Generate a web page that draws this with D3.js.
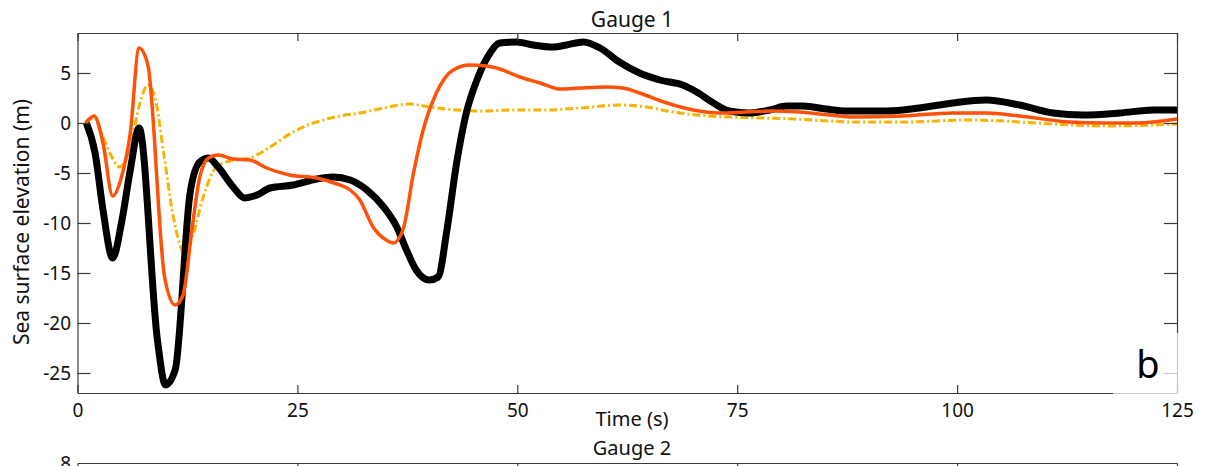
<!DOCTYPE html>
<html>
<head>
<meta charset="utf-8">
<script src="https://cdn.jsdelivr.net/npm/d3@7"></script>
<style>
  html, body { margin: 0; padding: 0; background: #fff; }
  svg { display: block; font-family: "Noto Sans", "Open Sans", sans-serif; }
</style>
</head>
<body>
<svg id="chart" width="1205" height="466"></svg>
<script>
// ---- data ----
const xTicks = [0, 25, 50, 75, 100, 125];
const yTicks = [-25, -20, -15, -10, -5, 0, 5];
const lowerTicks = [25, 50, 75, 100];

const observedT = [1, 2, 2.9, 4, 5, 6, 7, 9.1, 10, 11.1, 12.8, 13.9, 14.9, 15.8, 17.7, 19, 20.4, 21.9, 24.5, 27.2, 29.1, 31, 32.9, 34.8, 36.3, 37.4, 38.5, 40, 41, 42, 43.1, 44.2, 45.5, 46.9, 48, 49.9, 51.8, 54.1, 55.6, 57.5, 59.4, 61.6, 63.9, 66.2, 68.8, 70.4, 72.3, 74.1, 76.4, 78.7, 80.6, 82.5, 85.1, 87.4, 92, 95.7, 99.5, 103.3, 107.1, 110.9, 114.3, 118.5, 122.3, 125];
const observedV = [0, -3, -8.7, -13.5, -10, -4.7, -0.5, -21.8, -26.2, -24.7, -7, -3.9, -3.5, -4.2, -6.4, -7.5, -7.2, -6.5, -6.2, -5.6, -5.4, -5.7, -6.7, -8.4, -10.4, -12.7, -14.7, -15.7, -15.4, -10.7, -4, 1, 4.5, 7, 8, 8.1, 7.8, 7.6, 7.8, 8.1, 7.5, 6.1, 5, 4.3, 3.8, 3.1, 2, 1.2, 1, 1.3, 1.7, 1.7, 1.4, 1.2, 1.2, 1.5, 2, 2.3, 1.8, 1, 0.8, 1, 1.3, 1.3];

const modelAT = [0.9, 1.9, 2.9, 4, 5, 6, 7, 8, 9.9, 11.1, 12, 13, 13.9, 14.9, 16, 17.7, 19.6, 21.5, 24.1, 27.2, 29.5, 31, 32.1, 33.6, 35.1, 35.9, 37, 38.2, 39.3, 40.8, 42.7, 44.6, 46.5, 48, 50.3, 52.6, 54.8, 57.1, 60.1, 62, 63.9, 67, 70, 73, 76, 79, 82.1, 85.5, 88.2, 93.8, 99.5, 103.3, 107.1, 112.8, 116.6, 120.4, 125];
const modelAV = [0, 0.7, -2, -7.3, -5.4, -1, 7.5, 5.8, -15.4, -18.2, -17.2, -10.7, -5.4, -3.5, -3.2, -3.6, -3.7, -4.5, -5.2, -5.5, -6.1, -6.7, -7.7, -10.4, -11.7, -12, -10.7, -5, -0.7, 3, 5.3, 5.8, 5.7, 5.4, 4.6, 4, 3.4, 3.5, 3.6, 3.5, 3, 2, 1.3, 1, 1.1, 1.2, 1.1, 0.8, 0.6, 0.7, 1, 1, 0.7, 0.1, 0, 0, 0.4];

const modelBT = [0.9, 1.9, 2.9, 3.9, 4.8, 6, 7.1, 8, 8.8, 9.8, 10.9, 12.2, 13.2, 14.3, 15.8, 17.3, 19.6, 21.9, 24.5, 27.2, 29.8, 32.1, 34.8, 37.8, 40, 43.1, 46.1, 49.5, 53.3, 57.1, 61.6, 64.7, 67.7, 70.4, 74.1, 77.9, 81.7, 85.5, 88.2, 93.8, 101.4, 105.2, 110.9, 116.6, 122.3, 125];
const modelBV = [0, 0.5, -1.4, -3.4, -4.4, -2.4, 2, 3.8, 2.6, -3, -9.4, -13, -11, -7.4, -4.4, -3.8, -3.5, -2.4, -0.9, 0.1, 0.7, 1, 1.5, 1.9, 1.6, 1.3, 1.2, 1.3, 1.3, 1.5, 1.8, 1.6, 1.1, 0.8, 0.6, 0.5, 0.4, 0.2, 0.1, 0.1, 0.3, 0.2, -0.1, -0.3, -0.2, -0.1];

(function () {
// ---- layout ----
const svg = d3.select("#chart");
const L = 77.5, R = 1177, T = 33, B = 393;
const x = d3.scaleLinear().domain([0, 125]).range([L, R]);
const y = d3.scaleLinear().domain([-27, 9]).range([B, T]);
const axisColor = "#3a3a3a";
const fmt = d => String(d);

svg.append("defs").append("clipPath").attr("id", "clip")
  .append("rect").attr("x", L).attr("y", T).attr("width", R - L).attr("height", B - T);

// title
svg.append("text").attr("x", 632).attr("y", 27).attr("text-anchor", "middle")
  .attr("font-size", 21).attr("fill", "#111").text("Gauge 1");

// lines
const zip = (ts, vs) => ts.map((t, i) => [t, vs[i]]);
const line = d3.line().x(d => x(d[0])).y(d => y(d[1])).curve(d3.curveMonotoneX);
const g = svg.append("g").attr("clip-path", "url(#clip)");

g.append("path").datum(zip(modelBT, modelBV)).attr("d", line)
  .attr("fill", "none").attr("stroke", "#f5b400").attr("stroke-width", 3)
  .attr("stroke-dasharray", "8,3,2,3");
g.append("path").datum(zip(observedT, observedV)).attr("d", line)
  .attr("fill", "none").attr("stroke", "#000").attr("stroke-width", 7)
  .attr("stroke-linejoin", "round");
g.append("path").datum(zip(modelAT, modelAV)).attr("d", line)
  .attr("fill", "none").attr("stroke", "#ff5208").attr("stroke-width", 3.5)
  .attr("stroke-linejoin", "round");

// axes
const ax = svg.append("g");
ax.append("g").attr("transform", `translate(0,${B})`)
  .call(d3.axisBottom(x).tickValues(xTicks).tickFormat(fmt).tickSizeInner(-8).tickSizeOuter(0).tickPadding(10.5));
ax.append("g").attr("transform", `translate(0,${T})`)
  .call(d3.axisTop(x).tickValues(xTicks).tickSizeInner(-8).tickSizeOuter(0).tickFormat(""));
ax.append("g").attr("transform", `translate(${L},0)`)
  .call(d3.axisLeft(y).tickValues(yTicks).tickFormat(fmt).tickSizeInner(-13).tickSizeOuter(0).tickPadding(6.5));
ax.append("g").attr("transform", `translate(${R},0)`)
  .call(d3.axisRight(y).tickValues(yTicks).tickSizeInner(-13).tickSizeOuter(0).tickFormat(""));
ax.selectAll(".domain").attr("stroke", axisColor).attr("stroke-width", 1.2);
ax.selectAll(".tick line").attr("stroke", axisColor).attr("stroke-width", 1.2);
ax.selectAll(".tick text").attr("font-size", 19).attr("fill", "#111")
  .attr("font-family", "'Noto Sans', sans-serif");

// axis labels
svg.append("text").attr("x", 632).attr("y", 426).attr("text-anchor", "middle")
  .attr("font-size", 20).attr("fill", "#111").text("Time (s)");
svg.append("text").attr("transform", "translate(29,222) rotate(-90)").attr("text-anchor", "middle")
  .attr("font-size", 21).attr("fill", "#111").text("Sea surface elevation (m)");

// panel letter with translucent white box
svg.append("rect").attr("x", 1113).attr("y", 333).attr("width", 72).attr("height", 64)
  .attr("fill", "#fff").attr("opacity", 0.72);
svg.append("text").attr("x", 1148).attr("y", 378).attr("text-anchor", "middle")
  .attr("font-size", 38).attr("fill", "#000").text("b");

// lower panel (Gauge 2), only its top edge is visible
const LT = 463;
svg.append("text").attr("x", 632).attr("y", 454.5).attr("text-anchor", "middle")
  .attr("font-size", 20).attr("fill", "#111").text("Gauge 2");
const y2 = d3.scaleLinear().domain([-20, 8]).range([LT + 300, LT]);
const lower = svg.append("g");
lower.append("g").attr("transform", `translate(0,${LT})`)
  .call(d3.axisTop(x).tickValues(lowerTicks).tickSizeInner(-8).tickSizeOuter(0).tickFormat(""));
lower.append("g").attr("transform", `translate(${L},0)`)
  .call(d3.axisLeft(y2).tickValues([8]).tickFormat(fmt).tickSizeInner(0).tickSizeOuter(0).tickPadding(6.5));
lower.append("g").attr("transform", `translate(${R},0)`)
  .call(d3.axisRight(y2).tickValues([]).tickSizeOuter(0));
lower.selectAll(".domain").attr("stroke", axisColor).attr("stroke-width", 1.2);
lower.selectAll(".tick line").attr("stroke", axisColor).attr("stroke-width", 1.2);
lower.selectAll(".tick text").attr("font-size", 19).attr("fill", "#111")
  .attr("font-family", "'Noto Sans', sans-serif");
})();
</script>
</body>
</html>
